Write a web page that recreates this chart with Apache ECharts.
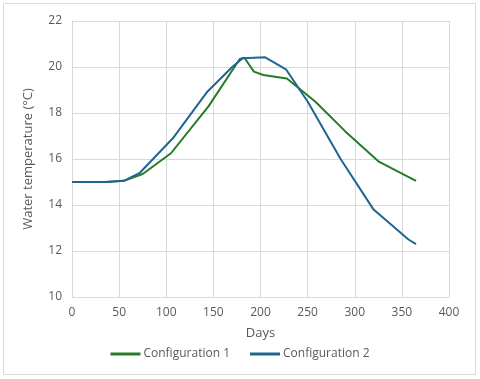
<!DOCTYPE html>
<html>
<head>
<meta charset="utf-8">
<script src="https://cdn.jsdelivr.net/npm/echarts@6/dist/echarts.min.js"></script>
<style>
  body { margin: 0; background: #fff; }
  #chart { width: 480px; height: 379px; }
</style>
</head>
<body>
<div id="chart"></div>
<script>
// days / temperature
var days1 = [0, 36, 55, 75, 105, 145, 178, 183, 188, 193, 203, 228, 258, 290, 325, 365];
var temp1 = [15, 15, 15.05, 15.35, 16.25, 18.3, 20.35, 20.4, 20.1, 19.8, 19.65, 19.5, 18.5, 17.2, 15.9, 15.05];
var days2 = [0, 36, 55, 72, 107, 143, 170, 181, 205, 227, 250, 285, 320, 357, 365];
var temp2 = [15, 15, 15.05, 15.4, 16.9, 18.9, 20.0, 20.38, 20.42, 19.9, 18.5, 16.0, 13.8, 12.5, 12.3];
var seriesNames = ["Configuration 1", "Configuration 2"];

function pairs(xs, ys) {
  return xs.map(function (x, i) { return [x, ys[i]]; });
}

var myChart = echarts.init(document.getElementById("chart"));
var font = "'Open Sans', 'Liberation Sans', sans-serif";
var option = {
  animation: false,
  textStyle: { fontFamily: font },
  graphic: [{
    type: "rect",
    shape: { x: 3.5, y: 3.5, width: 472, height: 371 },
    style: { fill: "none", stroke: "#d9d9d9", lineWidth: 1 },
    silent: true
  }],
  grid: { left: 72, right: 31, top: 21, bottom: 82 },
  legend: {
    bottom: 14,
    left: "center",
    itemWidth: 30,
    itemHeight: 3,
    itemGap: 20,
    icon: "rect",
    textStyle: { fontSize: 12, color: "#595959", fontFamily: font, padding: [0, 0, 0, -2] },
    data: seriesNames
  },
  xAxis: {
    type: "value",
    min: 0, max: 400, interval: 50,
    name: "Days",
    nameLocation: "middle",
    nameGap: 30,
    nameTextStyle: { fontSize: 13, color: "#595959" },
    axisLine: { show: true, lineStyle: { color: "#d9d9d9" } },
    axisTick: { show: false },
    axisLabel: { fontSize: 12, color: "#595959", margin: 10 },
    splitLine: { show: true, lineStyle: { color: "#d9d9d9", width: 1 } }
  },
  yAxis: {
    type: "value",
    min: 10, max: 22, interval: 2,
    name: "Water temperature (°C)",
    nameLocation: "middle",
    nameGap: 37,
    nameTextStyle: { fontSize: 13, color: "#595959" },
    axisLine: { show: true, lineStyle: { color: "#d9d9d9" } },
    axisTick: { show: false },
    axisLabel: { fontSize: 12, color: "#595959", margin: 10 },
    splitLine: { show: true, lineStyle: { color: "#d9d9d9", width: 1 } }
  },
  series: [
    {
      name: seriesNames[0],
      type: "line",
      symbol: "none",
      lineStyle: { color: "#267a28", width: 2 },
      itemStyle: { color: "#267a28" },
      data: pairs(days1, temp1)
    },
    {
      name: seriesNames[1],
      type: "line",
      symbol: "none",
      lineStyle: { color: "#1f6591", width: 2 },
      itemStyle: { color: "#1f6591" },
      data: pairs(days2, temp2)
    }
  ]
};
myChart.setOption(option);
</script>
</body>
</html>
